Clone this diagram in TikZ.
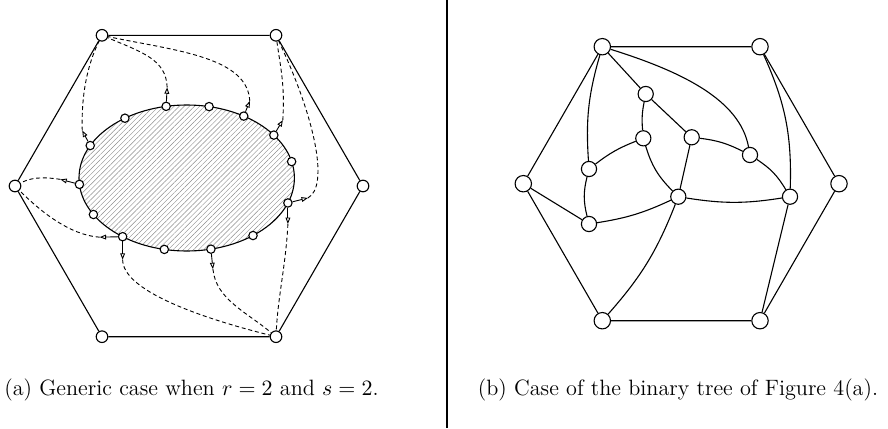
\documentclass[tikz,border=0pt]{standalone}
\usepackage{tikz}
\usetikzlibrary{arrows.meta, patterns.meta, calc}

\begin{document}
\begin{tikzpicture}[
        x=0.5pt, y=-0.5pt, line width=0.55pt,
        bigv/.style={circle, draw, fill=white, inner sep=0pt, minimum size=5.8pt},
        smallv/.style={circle, draw, fill=white, inner sep=0pt, minimum size=4.2pt},
        outerv/.style={circle, draw, fill=white, inner sep=0pt, minimum size=8.2pt},
        innerv/.style={circle, draw, fill=white, inner sep=0pt, minimum size=7.6pt},
        stub/.style={-{Triangle[open, length=3.2pt, width=2.4pt]}, line width=0.45pt},
        link/.style={dash pattern=on 2pt off 1.4pt, line width=0.45pt},
        caption/.style={anchor=base, inner sep=0pt, font=\fontsize{11.1pt}{13pt}\selectfont}
    ]
    \useasboundingbox (0,0) rectangle (888,428);

    % (a) generic case
    \coordinate (ectr) at (186.7,178);
    \fill[pattern={Lines[angle=45, distance=1.8pt, line width=0.22pt]}, pattern color=black!45]
        (ectr) ellipse [x radius=107.7, y radius=73];
    \draw (ectr) ellipse [x radius=107.7, y radius=73];

    \node[bigv] (ltl) at (102,35.3) {};
    \node[bigv] (ltr) at (276,35.3) {};
    \node[bigv] (ll) at (15,186) {};
    \node[bigv] (lr) at (363,186) {};
    \node[bigv] (lbl) at (102,336.7) {};
    \node[bigv] (lbr) at (276,336.7) {};
    \draw (ltl) -- (ltr) -- (lr) -- (lbr) -- (lbl) -- (ll) -- (ltl);

    \foreach \a [count=\i] in {-101,-78,-58,-36,-13,20,52,77,102,126.5,150,175,206.4,235}
        \path (ectr) ++(\a:107.7 and 73) node[smallv] (e\i) {};

    \foreach \s/\dx/\dy/\n in {1/1/-19/1, 3/6/-15/3, 13/-8/-15/13, 4/9/-15/4, 6/20/-5/6r,
                                6/0/21/6d, 12/-19/-5/12, 10/-23/0.5/10l, 10/0/23/10d, 8/2/20/8} {
        \path (e\s) ++(\dx,\dy) coordinate (t\n);
        \draw[stub] (e\s) -- (t\n);
    }

    \draw[link] (t1) .. controls +(-1,-28) and +(40,17) .. (ltl);
    \draw[link] (t3) .. controls +(-2,-45) and +(70,15) .. (ltl);
    \draw[link] (t13) .. controls +(-1,-35) and +(-15,30) .. (ltl);
    \draw[link] (t4) .. controls +(2,-35) and +(5,35) .. (ltr);
    \draw[link] (t6r) .. controls +(22,-12) and +(38,80) .. (ltr);
    \draw[link] (t6d) .. controls +(-2,40) and +(2,-40) .. (lbr);
    \draw[link] (t12) .. controls +(-20,-3) and +(15,-8) .. (ll);
    \draw[link] (t10l) .. controls +(-30,-2) and +(25,25) .. (ll);
    \draw[link] (t10d) .. controls +(0,30) and +(-80,-20) .. (lbr);
    \draw[link] (t8) .. controls +(3,30) and +(-30,-25) .. (lbr);

    \node[caption] (capa) at (191.5,395) {(a) Generic case when $r=2$ and $s=2$.};

    % separator
    \draw[line width=1pt] (447,0) -- (447,428);

    % (b) binary tree
    \node[outerv] (rtl) at (602.3,46.7) {};
    \node[outerv] (rtr) at (760,46.7) {};
    \node[outerv] (rl) at (523.3,183.7) {};
    \node[outerv] (rr) at (839,183.7) {};
    \node[outerv] (rbl) at (602.3,320.7) {};
    \node[outerv] (rbr) at (760,320.7) {};

    \node[innerv] (a) at (645.7,94) {};
    \node[innerv] (b) at (643.3,138.3) {};
    \node[innerv] (c) at (691.7,137.3) {};
    \node[innerv] (d) at (750,155) {};
    \node[innerv] (e) at (589,169) {};
    \node[innerv] (f) at (678.3,196.7) {};
    \node[innerv] (g) at (790,196.7) {};
    \node[innerv] (h) at (589,224) {};

    \draw (rtl) -- (rtr) -- (rr) -- (rbr) -- (rbl) -- (rl) -- (rtl);
    \draw (rtl) -- (a) -- (c) -- (f) (rl) -- (h) (rbr) -- (g);
    \draw (rtl) to[bend right=10] (e);
    \draw (rtl) .. controls +(80,25) and +(-10,-55) .. (d);
    \draw (rtr) to[bend left=13] (g);
    \draw (rbl) to[bend right=10] (f);
    \draw (a) to[bend right=8] (b);
    \draw (b) to[bend right=8] (e);
    \draw (b) to[bend right=14] (f);
    \draw (c) to[bend left=10] (d);
    \draw (d) to[bend left=13] (g);
    \draw (e) to[bend right=14] (h);
    \draw (h) to[bend right=8] (f);
    \draw (f) to[bend right=9] (g);

    \node[caption] (capb) at (678,395) {(b) Case of the binary tree of Figure 4(a).};
\end{tikzpicture}
\end{document}
